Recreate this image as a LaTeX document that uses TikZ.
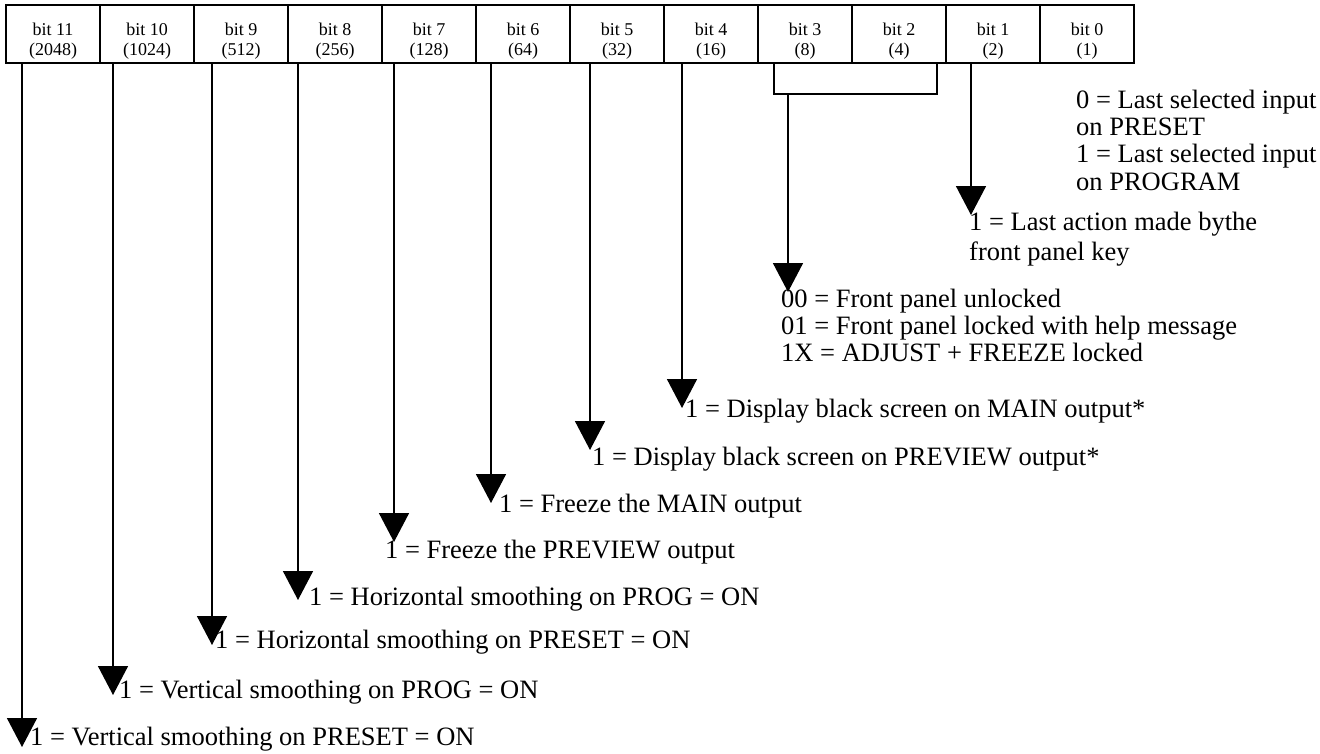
\documentclass[tikz,border=0pt]{standalone}
\usepackage{fontspec}
\setmainfont{Liberation Serif}
\usetikzlibrary{arrows.meta}
\begin{document}
\begin{tikzpicture}[x=1pt,y=-1pt,
  bitbox/.style={draw,line width=1.6pt,minimum width=94pt,minimum height=58pt,inner sep=0pt,align=center,text height=46pt,text depth=4pt,font=\fontsize{18}{20}\selectfont},
  desc/.style={anchor=base west,inner sep=0pt,align=left,font=\fontsize{26.5}{28}\selectfont},
  conn/.style={line width=1.6pt},
  arr/.style={conn,-{Triangle[width=30pt,length=29pt]}}]
\useasboundingbox (0,0) rectangle (1320,753);
% register boxes
\node[bitbox] (b11) at (53,34) {bit 11\\(2048)};
\node[bitbox] (b10) at (147,34) {bit 10\\(1024)};
\node[bitbox] (b9) at (241,34) {bit 9\\(512)};
\node[bitbox] (b8) at (335,34) {bit 8\\(256)};
\node[bitbox] (b7) at (429,34) {bit 7\\(128)};
\node[bitbox] (b6) at (523,34) {bit 6\\(64)};
\node[bitbox] (b5) at (617,34) {bit 5\\(32)};
\node[bitbox] (b4) at (711,34) {bit 4\\(16)};
\node[bitbox] (b3) at (805,34) {bit 3\\(8)};
\node[bitbox] (b2) at (899,34) {bit 2\\(4)};
\node[bitbox] (b1) at (993,34) {bit 1\\(2)};
\node[bitbox] (b0) at (1087,34) {bit 0\\(1)};
% descriptions (anchor = baseline of last line)
\node[desc,font=\fontsize{26.5}{27.3}\selectfont] (t0) at (1076,190) {0 = Last selected input\\on PRESET\\1 = Last selected input\\on PROGRAM};
\node[desc,font=\fontsize{26.5}{30}\selectfont] (t1) at (969,260) {1 = Last action made bythe\\front panel key};
\node[desc,font=\fontsize{26.5}{27}\selectfont] (t32) at (781,361) {00 = Front panel unlocked\\01 = Front panel locked with help message\\1X = ADJUST + FREEZE locked};
\node[desc] (t4) at (685,417) {1 = Display black screen on MAIN output*};
\node[desc] (t5) at (592,465) {1 = Display black screen on PREVIEW output*};
\node[desc] (t6) at (499,512) {1 = Freeze the MAIN output};
\node[desc] (t7) at (385,558) {1 = Freeze the PREVIEW output};
\node[desc] (t8) at (309,605) {1 = Horizontal smoothing on PROG = ON};
\node[desc] (t9) at (215,648) {1 = Horizontal smoothing on PRESET = ON};
\node[desc] (t10) at (119,698) {1 = Vertical smoothing on PROG = ON};
\node[desc] (t11) at (30,745) {1 = Vertical smoothing on PRESET = ON};
% arrow ends
\coordinate (e11) at (22,747);
\coordinate (e10) at (113,695);
\coordinate (e9) at (212,645);
\coordinate (e8) at (298,600);
\coordinate (e7) at (394,542);
\coordinate (e6) at (491,503);
\coordinate (e5) at (590,450);
\coordinate (e4) at (682,408);
\coordinate (e32) at (788,292);
\coordinate (e1) at (971,215);
\coordinate (k3) at (774,94);
\coordinate (k2) at (937,94);
% connectors
\draw[arr] (e11 |- b11.south) -- (e11);
\draw[arr] (e10 |- b10.south) -- (e10);
\draw[arr] (e9 |- b9.south) -- (e9);
\draw[arr] (e8 |- b8.south) -- (e8);
\draw[arr] (e7 |- b7.south) -- (e7);
\draw[arr] (e6 |- b6.south) -- (e6);
\draw[arr] (e5 |- b5.south) -- (e5);
\draw[arr] (e4 |- b4.south) -- (e4);
\draw[conn] (k3 |- b3.south) -- (k3) -- (k2) -- (k2 |- b2.south);
\draw[arr] (e32 |- k3) -- (e32);
\draw[arr] (e1 |- b1.south) -- (e1);
\end{tikzpicture}
\end{document}
